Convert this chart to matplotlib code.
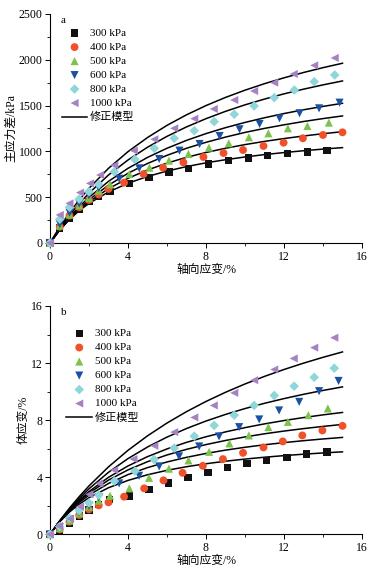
import numpy as np
import matplotlib
matplotlib.use("Agg")
import matplotlib.pyplot as plt
from matplotlib.ticker import MultipleLocator

plt.rcParams['font.family'] = ['Liberation Serif', 'Noto Sans CJK SC']
plt.rcParams['axes.unicode_minus'] = False

labels = ['300 kPa', '400 kPa', '500 kPa', '600 kPa', '800 kPa', '1000 kPa']
colors = ['#111111', '#f0502a', '#7cc24c', '#1b50a3', '#8fd6da', '#a681c4']
markers = ['s', 'o', '^', 'v', 'D', '<']
msizes = [28, 32, 34, 34, 24, 34]

# ---- a: 主应力差 ----
qa_x = [
    [0, 0.5, 1, 1.5, 2, 2.5, 3.08, 4.07, 5.08, 6.11, 7.1, 8.13, 9.15, 10.18, 11.17, 12.18, 13.2, 14.2],
    [0, 0.5, 1, 1.5, 2, 2.5, 3.0, 3.8, 4.8, 5.8, 6.84, 7.87, 8.9, 9.9, 10.95, 11.98, 12.97, 14.0, 15.0],
    [0, 0.5, 1, 1.5, 2, 2.5, 3.08, 4.07, 5.1, 6.1, 7.1, 8.15, 9.17, 10.2, 11.2, 12.2, 13.2, 14.3],
    [0, 0.5, 1, 1.5, 2, 2.5, 3.55, 4.58, 5.6, 6.64, 7.67, 8.7, 9.72, 10.75, 11.77, 12.8, 13.8, 14.85],
    [0, 0.5, 1, 1.5, 2, 2.5, 3.3, 4.35, 5.35, 6.37, 7.4, 8.42, 9.45, 10.47, 11.5, 12.53, 13.55, 14.6],
    [0, 0.5, 1, 1.54, 2.05, 2.57, 3.3, 4.3, 5.35, 6.37, 7.4, 8.4, 9.45, 10.47, 11.5, 12.5, 13.55, 14.6],
]
qa_y = [
    [0, 165, 265, 370, 450, 505, 560, 648, 717, 775, 815, 862, 902, 928, 957, 975, 993, 1012],
    [0, 178, 300, 390, 470, 530, 590, 659, 753, 822, 880, 939, 982, 1015, 1059, 1095, 1143, 1179, 1208],
    [0, 190, 310, 410, 490, 570, 640, 753, 822, 899, 972, 1041, 1088, 1154, 1197, 1252, 1277, 1314],
    [0, 205, 330, 430, 520, 600, 702, 815, 917, 1008, 1081, 1168, 1241, 1299, 1361, 1416, 1470, 1532],
    [0, 260, 390, 480, 560, 640, 779, 913, 1033, 1143, 1226, 1325, 1405, 1496, 1587, 1670, 1761, 1834],
    [0, 306, 433, 550, 651, 742, 848, 1008, 1132, 1252, 1357, 1463, 1561, 1659, 1750, 1845, 1939, 2020],
]

# 修正模型曲线
model_x = [0, 0.5, 1, 1.5, 2, 3, 4, 5, 6, 7, 8, 9, 10, 11, 12, 13, 14, 15]
qa_model = [
    [0, 143, 258, 353, 432, 557, 652, 726, 785, 834, 875, 909, 939, 965, 987, 1007, 1025, 1041],
    [0, 141, 260, 362, 449, 593, 706, 797, 872, 935, 988, 1034, 1074, 1109, 1140, 1168, 1193, 1215],
    [0, 143, 267, 376, 471, 631, 761, 868, 957, 1034, 1099, 1156, 1207, 1251, 1290, 1326, 1358, 1387],
    [0, 150, 281, 396, 498, 673, 815, 934, 1034, 1120, 1194, 1259, 1316, 1367, 1413, 1454, 1491, 1525],
    [0, 160, 302, 430, 544, 742, 906, 1045, 1164, 1267, 1357, 1437, 1508, 1571, 1628, 1679, 1726, 1769],
    [0, 175, 331, 471, 597, 815, 997, 1151, 1284, 1399, 1500, 1589, 1668, 1739, 1803, 1861, 1914, 1962],
]

# ---- b: 体应变 ----
vb_x = [
    [0, 0.5, 1, 1.5, 2, 2.5, 3.05, 4.07, 5.08, 6.08, 7.07, 8.1, 9.1, 10.1, 11.1, 12.15, 13.15, 14.2],
    [0, 0.5, 1, 1.5, 2, 2.5, 3.0, 3.8, 4.83, 5.82, 6.8, 7.84, 8.87, 9.9, 10.95, 11.94, 12.94, 13.97, 15.0],
    [0, 0.5, 1, 1.5, 2, 2.5, 3.08, 4.07, 5.08, 6.1, 7.1, 8.16, 9.2, 10.2, 11.2, 12.2, 13.25, 14.25],
    [0, 0.5, 1, 1.5, 2, 2.5, 3.55, 4.57, 5.6, 6.62, 7.65, 8.67, 9.7, 10.73, 11.75, 12.78, 13.8, 14.8],
    [0, 0.5, 1, 1.5, 2, 2.5, 3.3, 4.36, 5.34, 6.37, 7.4, 8.42, 9.45, 10.47, 11.5, 12.52, 13.55, 14.58],
    [0, 0.46, 1.03, 1.54, 2.02, 2.53, 3.29, 4.28, 5.35, 6.37, 7.4, 8.4, 9.45, 10.47, 11.5, 12.5, 13.55, 14.58],
]
vb_y = [
    [0, 0.3, 0.8, 1.28, 1.7, 2.1, 2.45, 2.68, 3.15, 3.6, 3.96, 4.34, 4.66, 4.94, 5.18, 5.39, 5.62, 5.76],
    [0, 0.35, 0.89, 1.35, 1.75, 2.03, 2.24, 2.64, 3.22, 3.78, 4.31, 4.8, 5.27, 5.71, 6.09, 6.51, 6.93, 7.28, 7.6],
    [0, 0.42, 0.96, 1.47, 1.94, 2.36, 2.7, 3.22, 3.96, 4.6, 5.18, 5.78, 6.37, 6.93, 7.51, 7.88, 8.35, 8.82],
    [0, 0.49, 1.05, 1.54, 2.0, 2.6, 3.57, 4.1, 4.76, 5.46, 6.16, 6.86, 7.51, 8.05, 8.68, 9.28, 10.03, 10.75],
    [0, 0.54, 1.12, 1.66, 2.2, 2.75, 3.73, 4.43, 5.25, 6.04, 6.88, 7.63, 8.35, 9.03, 9.73, 10.38, 11.0, 11.64],
    [0, 0.58, 1.09, 1.95, 2.8, 3.57, 4.5, 5.27, 6.2, 7.16, 8.19, 9.03, 9.91, 10.8, 11.55, 12.32, 13.08, 13.78],
]
vb_model = [
    [0, 0.877, 1.563, 2.114, 2.566, 3.264, 3.778, 4.172, 4.484, 4.737, 4.946, 5.122, 5.272, 5.402, 5.514, 5.614, 5.702, 5.78],
    [0, 0.898, 1.629, 2.236, 2.748, 3.564, 4.185, 4.674, 5.069, 5.394, 5.667, 5.899, 6.099, 6.274, 6.426, 6.561, 6.682, 6.79],
    [0, 0.912, 1.676, 2.326, 2.886, 3.799, 4.514, 5.088, 5.56, 5.953, 6.288, 6.575, 6.824, 7.043, 7.235, 7.407, 7.561, 7.70],
    [0, 0.923, 1.713, 2.398, 2.996, 3.993, 4.79, 5.442, 5.984, 6.443, 6.837, 7.177, 7.476, 7.739, 7.972, 8.181, 8.37, 8.54],
    [0, 0.94, 1.775, 2.52, 3.19, 4.345, 5.306, 6.117, 6.812, 7.412, 7.938, 8.401, 8.812, 9.18, 9.51, 9.81, 10.082, 10.33],
    [0, 0.957, 1.835, 2.644, 3.391, 4.726, 5.885, 6.9, 7.797, 8.595, 9.309, 9.952, 10.535, 11.066, 11.549, 11.993, 12.402, 12.78],
]

fig = plt.figure(figsize=(3.75, 5.68), dpi=100)
ax1 = fig.add_axes([0.1333, 0.5722, 0.832, 0.4032])
ax2 = fig.add_axes([0.1333, 0.0593, 0.832, 0.402])


def draw(ax, xs, ys, model, ymax, ymaj, ylabel, tag, legx, legy):
    for i in range(6):
        ax.scatter(xs[i], ys[i], marker=markers[i], s=msizes[i], color=colors[i],
                   edgecolors='none', label=labels[i], zorder=3, clip_on=False)
    for i in range(6):
        ax.plot(model_x, model[i], color='black', lw=1.1, zorder=2,
                label='修正模型' if i == 0 else None)
    ax.set_xlim(0, 16)
    ax.set_ylim(0, ymax)
    ax.xaxis.set_major_locator(MultipleLocator(4))
    ax.xaxis.set_minor_locator(MultipleLocator(2))
    ax.yaxis.set_major_locator(MultipleLocator(ymaj))
    ax.yaxis.set_minor_locator(MultipleLocator(ymaj / 2))
    for s in ['top', 'right']:
        ax.spines[s].set_visible(False)
    ax.spines['left'].set_linewidth(0.8)
    ax.spines['bottom'].set_linewidth(0.8)
    ax.tick_params(which='major', direction='out', length=3.5, width=0.7, labelsize=8.5, pad=2)
    ax.tick_params(which='minor', direction='out', length=2, width=0.6)
    ax.set_xlabel('轴向应变/%', fontsize=8.5, labelpad=1)
    ax.set_ylabel(ylabel, fontsize=8.5, labelpad=1)
    ax.text(0.035, 0.99, tag, transform=ax.transAxes, fontsize=8, va='top')
    ax.legend(loc='upper left', bbox_to_anchor=(legx, legy), frameon=False, fontsize=8,
              handlelength=2.3, handletextpad=0.25, labelspacing=0.38, borderpad=0,
              scatterpoints=1)


draw(ax1, qa_x, qa_y, qa_model, 2500, 500, '主应力差/kPa', 'a', 0.02, 0.962)
draw(ax2, vb_x, vb_y, vb_model, 16, 4, '体应变/%', 'b', 0.035, 0.925)

fig.savefig('out.png', dpi=100)
